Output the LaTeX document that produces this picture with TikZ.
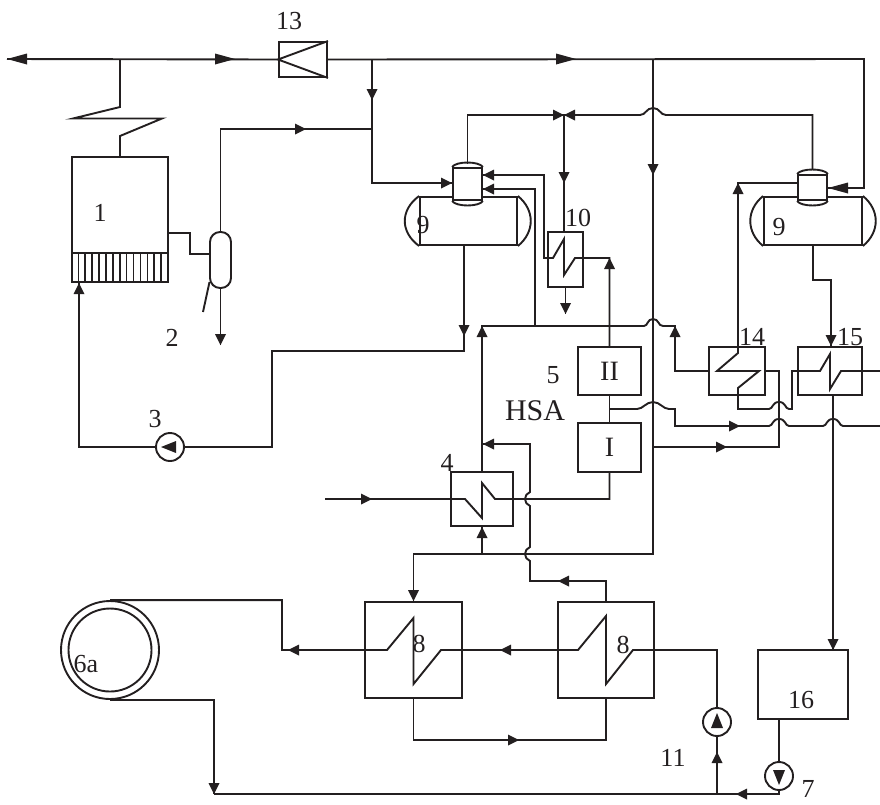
\documentclass[tikz,border=0pt]{standalone}
\usepackage{fontspec}
\setmainfont{Liberation Serif}
\definecolor{ink}{HTML}{231F20}
\tikzset{
  pipe/.style={draw=ink,line width=1.9pt,line join=miter},
  unit/.style={draw=ink,line width=1.9pt,inner sep=0pt,fill=none},
  lab/.style={text=ink,inner sep=0pt,font=\fontsize{26}{26}\selectfont},
  coil/.style={draw=ink,line width=1.9pt,line join=miter}
}
% filled triangle, tip at (x,y), pointing along angle
\newcommand{\flowtip}[2]{\fill[ink,shift={(#1)},rotate=#2] (0,0)--(-11,5.5)--(-11,-5.5)--cycle;}
\newcommand{\bigtip}[2]{\fill[ink,shift={(#1)},rotate=#2] (0,0)--(-20,5.5)--(-20,-5.5)--cycle;}
% horizontal line hopping over a vertical one
\newcommand{\hopup}[2]{-- ({#1-10},#2) .. controls ({#1-6},#2) and ({#1-7},{#2-7}) .. (#1,{#2-7}) .. controls ({#1+7},{#2-7}) and ({#1+6},#2) .. ({#1+10},#2)}
% vertical line hopping to the left over a horizontal one
\newcommand{\hopleft}[2]{-- (#1,{#2-7}) .. controls ({#1-3},{#2-6}) and ({#1-5},{#2-3}) .. ({#1-5},#2) .. controls ({#1-5},{#2+3}) and ({#1-3},{#2+6}) .. (#1,{#2+7})}
\begin{document}
\begin{tikzpicture}[x=1pt,y=-1pt]
\useasboundingbox (0,0) rectangle (880,804);
% ---- units ----
\node[unit,minimum width=48pt,minimum height=35pt] (b13) at (303,59.5) {};
\node[unit,minimum width=96pt,minimum height=125pt] (b1) at (120,219.5) {};
\node[unit,minimum width=63pt,minimum height=48pt] (bII) at (609.5,371) {};
\node[unit,minimum width=63pt,minimum height=49pt] (bI) at (609.5,447.5) {};
\node[unit,minimum width=62pt,minimum height=54pt] (b4) at (482,499) {};
\node[unit,minimum width=35pt,minimum height=55pt] (b10) at (565.5,259.5) {};
\node[unit,minimum width=56pt,minimum height=48pt] (b14) at (737,371) {};
\node[unit,minimum width=64pt,minimum height=48pt] (b15) at (830,371) {};
\node[unit,minimum width=97pt,minimum height=96pt] (b8a) at (413.5,650) {};
\node[unit,minimum width=96pt,minimum height=96pt] (b8b) at (606,650) {};
\node[unit,minimum width=90pt,minimum height=69pt] (b16) at (803,684.5) {};
\node[unit,circle,minimum size=28pt] (p3) at (170,447) {};
\node[unit,circle,minimum size=28pt] (p11) at (717,722) {};
\node[unit,circle,minimum size=28pt] (p7) at (779,776) {};
\node[unit,circle,minimum size=98pt] (c6) at (110,650) {};
\node[unit,circle,minimum size=83pt] (c6i) at (110,650) {};
% drums
\node[unit,minimum width=97pt,minimum height=48pt] (d9a) at (468.5,221) {};
\draw[unit] (d9a.north west) .. controls (400,210) and (400,232) .. (d9a.south west);
\draw[unit] (d9a.north east) .. controls (535,210) and (535,232) .. (d9a.south east);
\node[unit,minimum width=98pt,minimum height=48pt] (d9b) at (813,221) {};
\draw[unit] (d9b.north west) .. controls (746,210) and (746,232) .. (d9b.south west);
\draw[unit] (d9b.north east) .. controls (880,210) and (880,232) .. (d9b.south east);
% deaerator heads (white fill hides the drum top)
\node[unit,fill=white,minimum width=29pt,minimum height=32pt] (h9a) at (467.5,184) {};
\draw[unit] (h9a.north west) .. controls (456,161) and (479,161) .. (h9a.north east);
\draw[unit] (h9a.south west) .. controls (456,207) and (479,207) .. (h9a.south east);
\coordinate (h9atop) at (467.5,164);
\node[unit,fill=white,minimum width=29pt,minimum height=25pt] (h9b) at (812.5,187.5) {};
\draw[unit] (h9b.north west) .. controls (801,168) and (824,168) .. (h9b.north east);
\draw[unit] (h9b.south west) .. controls (801,207) and (824,207) .. (h9b.south east);
\coordinate (h9btop) at (812.5,170);
% separator 2
\node[unit,rounded corners=10pt,minimum width=21pt,minimum height=56pt] (s2) at (220.5,260) {};
% ---- unit details ----
\draw[coil] (b13.north east) -- (b13.west) -- (b13.south east);
\draw[pipe] (72,253) -- (168,253);
\foreach \i in {0,...,12} {\draw[pipe,line width=1.6pt] ({78.3+\i*6.9},253) -- ({78.3+\i*6.9},282);}
\draw[coil] (b1.north) -- (120,136) -- (162,118.5) -- (73,118.5) -- (120,107) -- (120,59);
\draw[pipe] (203,312) -- (209.5,282);
% ---- main steam line ----
\coordinate (steamL) at (7,59);
\coordinate (gen) at (120,59);
\coordinate (j1) at (372,59);
\coordinate (j2) at (653,59);
\draw[pipe] (steamL) -- (b13.west);
\bigtip{steamL}{180}
\bigtip{235,59}{0}
\coordinate (sh) at (864,59);
\draw[pipe] (b13.east) -- (sh) -- (864,188) -- (h9b.east |- 0,188);
\bigtip{828,188}{180}
\bigtip{576,59}{0}
\draw[pipe] (j1) -- (372,183) -- (h9a.west |- 0,183);
\flowtip{372,100}{-90}
\flowtip{452,183}{0}
\draw[pipe] (s2.north) -- (220.5,129) -- (372,129);
\flowtip{306,129}{0}
\draw[pipe] (168,233) -- (190,233) -- (190,254) -- (s2.west |- 0,254);
\draw[pipe] (s2.south) -- (220.5,345);
\flowtip{220.5,345}{-90}
% ---- feedwater to boiler ----
\draw[pipe] (d9a.south -| 464,0) -- (464,351) -- (272,351) -- (272,447) -- (p3.east);
\flowtip{464,336}{-90}
\draw[pipe] (p3.west) -- (79,447) -- (79,283);
\flowtip{79,283}{90}
\fill[ink] (161,447) -- (176,441) -- (176,453) -- cycle;
% ---- deaerator vents ----
\coordinate (valve) at (564,115);
\draw[pipe] (h9atop) -- (467.5,115) -- (valve);
\draw[pipe] (h9btop) -- (812.5,115) -- (666,115) .. controls (660,115) and (660,108) .. (653,108) .. controls (646,108) and (646,115) .. (640,115) -- (valve);
\flowtip{564,115}{0}
\flowtip{564,115}{180}
\draw[pipe] (valve) -- (b10.north -| 564,0);
\flowtip{564,183}{-90}
\draw[pipe] (b10.south) -- (565.5,314);
\flowtip{565.5,314}{-90}
% ---- x=653 main column ----
\draw[pipe] (j2) -- (653,554) -- (413.5,554) -- (b8a.north);
\flowtip{653,175}{-90}
\flowtip{b8a.north}{-90}
\draw[pipe] (482,554) -- (b4.south);
\flowtip{482,527}{90}
\draw[pipe] (653,447) -- (779,447) -- (779,371) -- (b14.east);
\flowtip{727,447}{0}
% ---- line from 4 to header ----
\draw[pipe] (b4.north) -- (482,326) -- (644,326) .. controls (648,326) and (647,319) .. (653,319) .. controls (659,319) and (658,326) .. (663,326) -- (675,326) -- (675,371) -- (b14.west);
\flowtip{482,326}{90}
\flowtip{675,326}{90}
\draw[pipe] (535,326) -- (535,189) -- (h9a.east |- 0,189);
\flowtip{483,189}{180}
\draw[pipe] (h9a.east |- 0,175) -- (544,175) -- (544,258) -- (553,258) -- (564,239) -- (564,275) -- (575,258) -- (609.5,258) -- (bII.north);
\flowtip{483,175}{180}
\flowtip{609.5,258}{90}
% ---- HSA ----
\draw[pipe] (bII.south) -- (bI.north);
\draw[pipe] (bI.south) -- (609.5,499) -- (495,499) -- (482,483) -- (482,518) -- (465,499) -- (325,499);
\flowtip{372,499}{0}
\draw[pipe] (483,444) -- (530,444) \hopleft{530}{499} \hopleft{530}{554} -- (530,581) -- (606,581) -- (b8b.north);
\flowtip{483,444}{180}
\flowtip{558,581}{180}
\draw[pipe] (609.5,409) -- (637,409) .. controls (643,409) and (646,402) .. (653,402) .. controls (660,402) and (663,409) .. (669,409) -- (675,409) -- (675,426) \hopup{779}{426} \hopup{833}{426} -- (880,426);
\flowtip{740,426}{0}
% ---- 14, 15 ----
\draw[coil] (h9b.west |- 0,183) -- (738,183) -- (738,353) -- (717,371) -- (759,371) -- (738,388) -- (738,409) \hopup{779}{409} -- (792,409) -- (792,371) -- (820,371) -- (830,354) -- (830,389) -- (841,371) -- (880,371);
\flowtip{738,183}{90}
\draw[pipe] (d9b.south) -- (813,280) -- (831,280) -- (b15.north -| 831,0);
\flowtip{831,346}{-90}
\draw[pipe] (b15.south -| 833,0) -- (b16.north -| 833,0);
\flowtip{833,650}{-90}
% ---- bottom ----
\draw[pipe] (c6.north) -| (282,650) -- (387,650) -- (413.5,618) -- (413.5,684) -- (441,650) -- (578,650) -- (606,616) -- (606,684) -- (633,650) -- (717,650) -- (p11.north);
\flowtip{288,650}{180}
\flowtip{500,650}{180}
\draw[pipe] (b8a.south) -- (413.5,740) -- (606,740) -- (b8b.south);
\flowtip{519,740}{0}
\draw[pipe] (c6.south) -| (214,794);
\flowtip{214,794}{-90}
\draw[pipe] (214,794) -- (779,794) -- (p7.south);
\flowtip{736,794}{180}
\draw[pipe] (b16.south -| 779,0) -- (p7.north);
\fill[ink] (779,785) -- (773,770) -- (785,770) -- cycle;
\draw[pipe] (717,794) -- (p11.south);
\flowtip{717,752}{90}
\fill[ink] (717,713) -- (711,728) -- (723,728) -- cycle;
% ---- labels ----
\node[lab] (t13) at (289,21) {13};
\node[lab] (t1) at (100,213) {1};
\node[lab] (t2) at (172,338) {2};
\node[lab] (t3) at (155,419) {3};
\node[lab] (t4) at (447,463) {4};
\node[lab] (t5) at (553,375) {5};
\node[lab,font=\fontsize{30}{30}\selectfont] (thsa) at (535,411) {HSA};
\node[lab,font=\fontsize{28}{28}\selectfont] at (bII) {II};
\node[lab,font=\fontsize{28}{28}\selectfont] at (bI) {I};
\node[lab] (t9a) at (423,225) {9};
\node[lab] (t9b) at (779,227) {9};
\node[lab] (t10) at (578,218) {10};
\node[lab] (t14) at (752,337) {14};
\node[lab] (t15) at (850,337) {15};
\node[lab] (t8a) at (419,644) {8};
\node[lab] (t8b) at (623,645) {8};
\node[lab] (t16) at (801,700) {16};
\node[lab] (t11) at (673,758) {11};
\node[lab] (t7) at (808,789) {7};
\node[lab] (t6a) at (86,664) {6a};
\end{tikzpicture}
\end{document}
